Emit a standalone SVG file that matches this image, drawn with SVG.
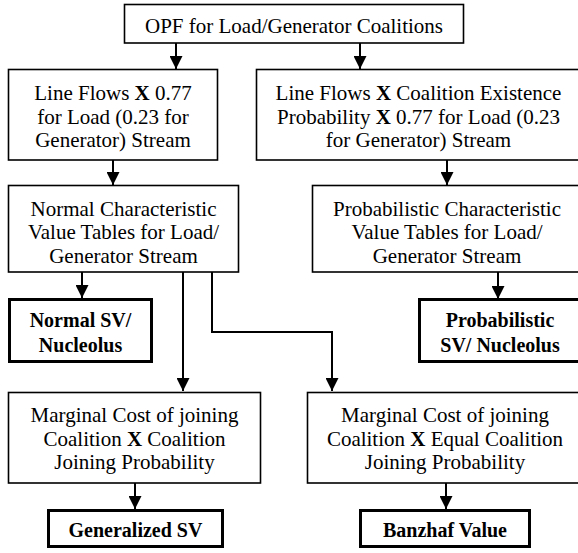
<svg xmlns="http://www.w3.org/2000/svg" width="578" height="553" viewBox="0 0 578 553">
<defs>
<style>
.box{fill:#fff;stroke:#000;stroke-width:1.6}
.bbox{fill:#fff;stroke:#000;stroke-width:3}
.t{font-family:"Liberation Serif","Times New Roman",serif;font-size:21px;fill:#000;text-anchor:middle}
.tb{font-family:"Liberation Serif","Times New Roman",serif;font-size:20px;font-weight:bold;fill:#000;text-anchor:middle}
.b{font-weight:bold}
.c{fill:none;stroke:#000;stroke-width:2}
</style>
<marker id="ah" markerUnits="userSpaceOnUse" markerWidth="13" markerHeight="13" refX="13" refY="6.5" orient="auto" viewBox="0 0 13 13">
<path d="M0,0 L13,6.5 L0,13 z" fill="#000"/>
</marker>
</defs>
<rect width="578" height="553" fill="#fff"/>
<g id="connectors">
<path class="c" d="M176,43 V69" marker-end="url(#ah)"/>
<path class="c" d="M360,43 V69" marker-end="url(#ah)"/>
<path class="c" d="M113,160 V185" marker-end="url(#ah)"/>
<path class="c" d="M447,160 V185" marker-end="url(#ah)"/>
<path class="c" d="M82,272 V298" marker-end="url(#ah)"/>
<path class="c" d="M183,272 V391" marker-end="url(#ah)"/>
<path class="c" d="M212,272 V332 H332 V391" marker-end="url(#ah)"/>
<path class="c" d="M498,272 V299" marker-end="url(#ah)"/>
<path class="c" d="M135,483 V509" marker-end="url(#ah)"/>
<path class="c" d="M446,483 V509" marker-end="url(#ah)"/>
</g>
<g id="opf">
<rect class="box" x="124.5" y="4.5" width="339" height="38.5"/>
<text class="t" x="294" y="33">OPF for Load/Generator Coalitions</text>
</g>
<g id="lineflows-normal">
<rect class="box" x="8.5" y="69.5" width="209" height="90.5"/>
<text class="t" x="113" y="100">Line Flows <tspan class="b">X</tspan> 0.77</text>
<text class="t" x="113" y="123.5">for Load (0.23 for</text>
<text class="t" x="113" y="147">Generator) Stream</text>
</g>
<g id="lineflows-prob">
<rect class="box" x="256.5" y="69.5" width="326" height="90.5"/>
<text class="t" x="418.5" y="100">Line Flows <tspan class="b">X</tspan> Coalition Existence</text>
<text class="t" x="418.5" y="123.5">Probability <tspan class="b">X</tspan> 0.77 for Load (0.23</text>
<text class="t" x="418.5" y="147">for Generator) Stream</text>
</g>
<g id="normal-cv">
<rect class="box" x="8.5" y="185.5" width="230" height="86.5"/>
<text class="t" x="123.5" y="215.5">Normal Characteristic</text>
<text class="t" x="123.5" y="239">Value Tables for Load/</text>
<text class="t" x="123.5" y="262.5">Generator Stream</text>
</g>
<g id="prob-cv">
<rect class="box" x="312.5" y="185.5" width="270" height="86.5"/>
<text class="t" x="447" y="215.5">Probabilistic Characteristic</text>
<text class="t" x="447" y="239">Value Tables for Load/</text>
<text class="t" x="447" y="262.5">Generator Stream</text>
</g>
<g id="normal-sv">
<rect class="bbox" x="9.5" y="299.5" width="142" height="62"/>
<text class="tb" x="80.5" y="327">Normal SV/</text>
<text class="tb" x="80.5" y="352">Nucleolus</text>
</g>
<g id="prob-sv">
<rect class="bbox" x="419.5" y="299.5" width="165" height="62"/>
<text class="tb" x="500" y="327">Probabilistic</text>
<text class="tb" x="500" y="352">SV/ Nucleolus</text>
</g>
<g id="marginal-coalition">
<rect class="box" x="8.5" y="392.5" width="252" height="90.5"/>
<text class="t" x="134.5" y="422">Marginal Cost of joining</text>
<text class="t" x="134.5" y="445.5">Coalition <tspan class="b">X</tspan> Coalition</text>
<text class="t" x="134.5" y="469">Joining Probability</text>
</g>
<g id="marginal-equal">
<rect class="box" x="307.5" y="392.5" width="276" height="90.5"/>
<text class="t" x="445" y="422">Marginal Cost of joining</text>
<text class="t" x="445" y="445.5">Coalition <tspan class="b">X</tspan> Equal Coalition</text>
<text class="t" x="445" y="469">Joining Probability</text>
</g>
<g id="generalized-sv">
<rect class="bbox" x="48.5" y="510.5" width="174" height="36"/>
<text class="tb" x="135.5" y="537">Generalized SV</text>
</g>
<g id="banzhaf">
<rect class="bbox" x="360.5" y="510.5" width="169" height="36"/>
<text class="tb" x="445" y="537">Banzhaf Value</text>
</g>
</svg>
